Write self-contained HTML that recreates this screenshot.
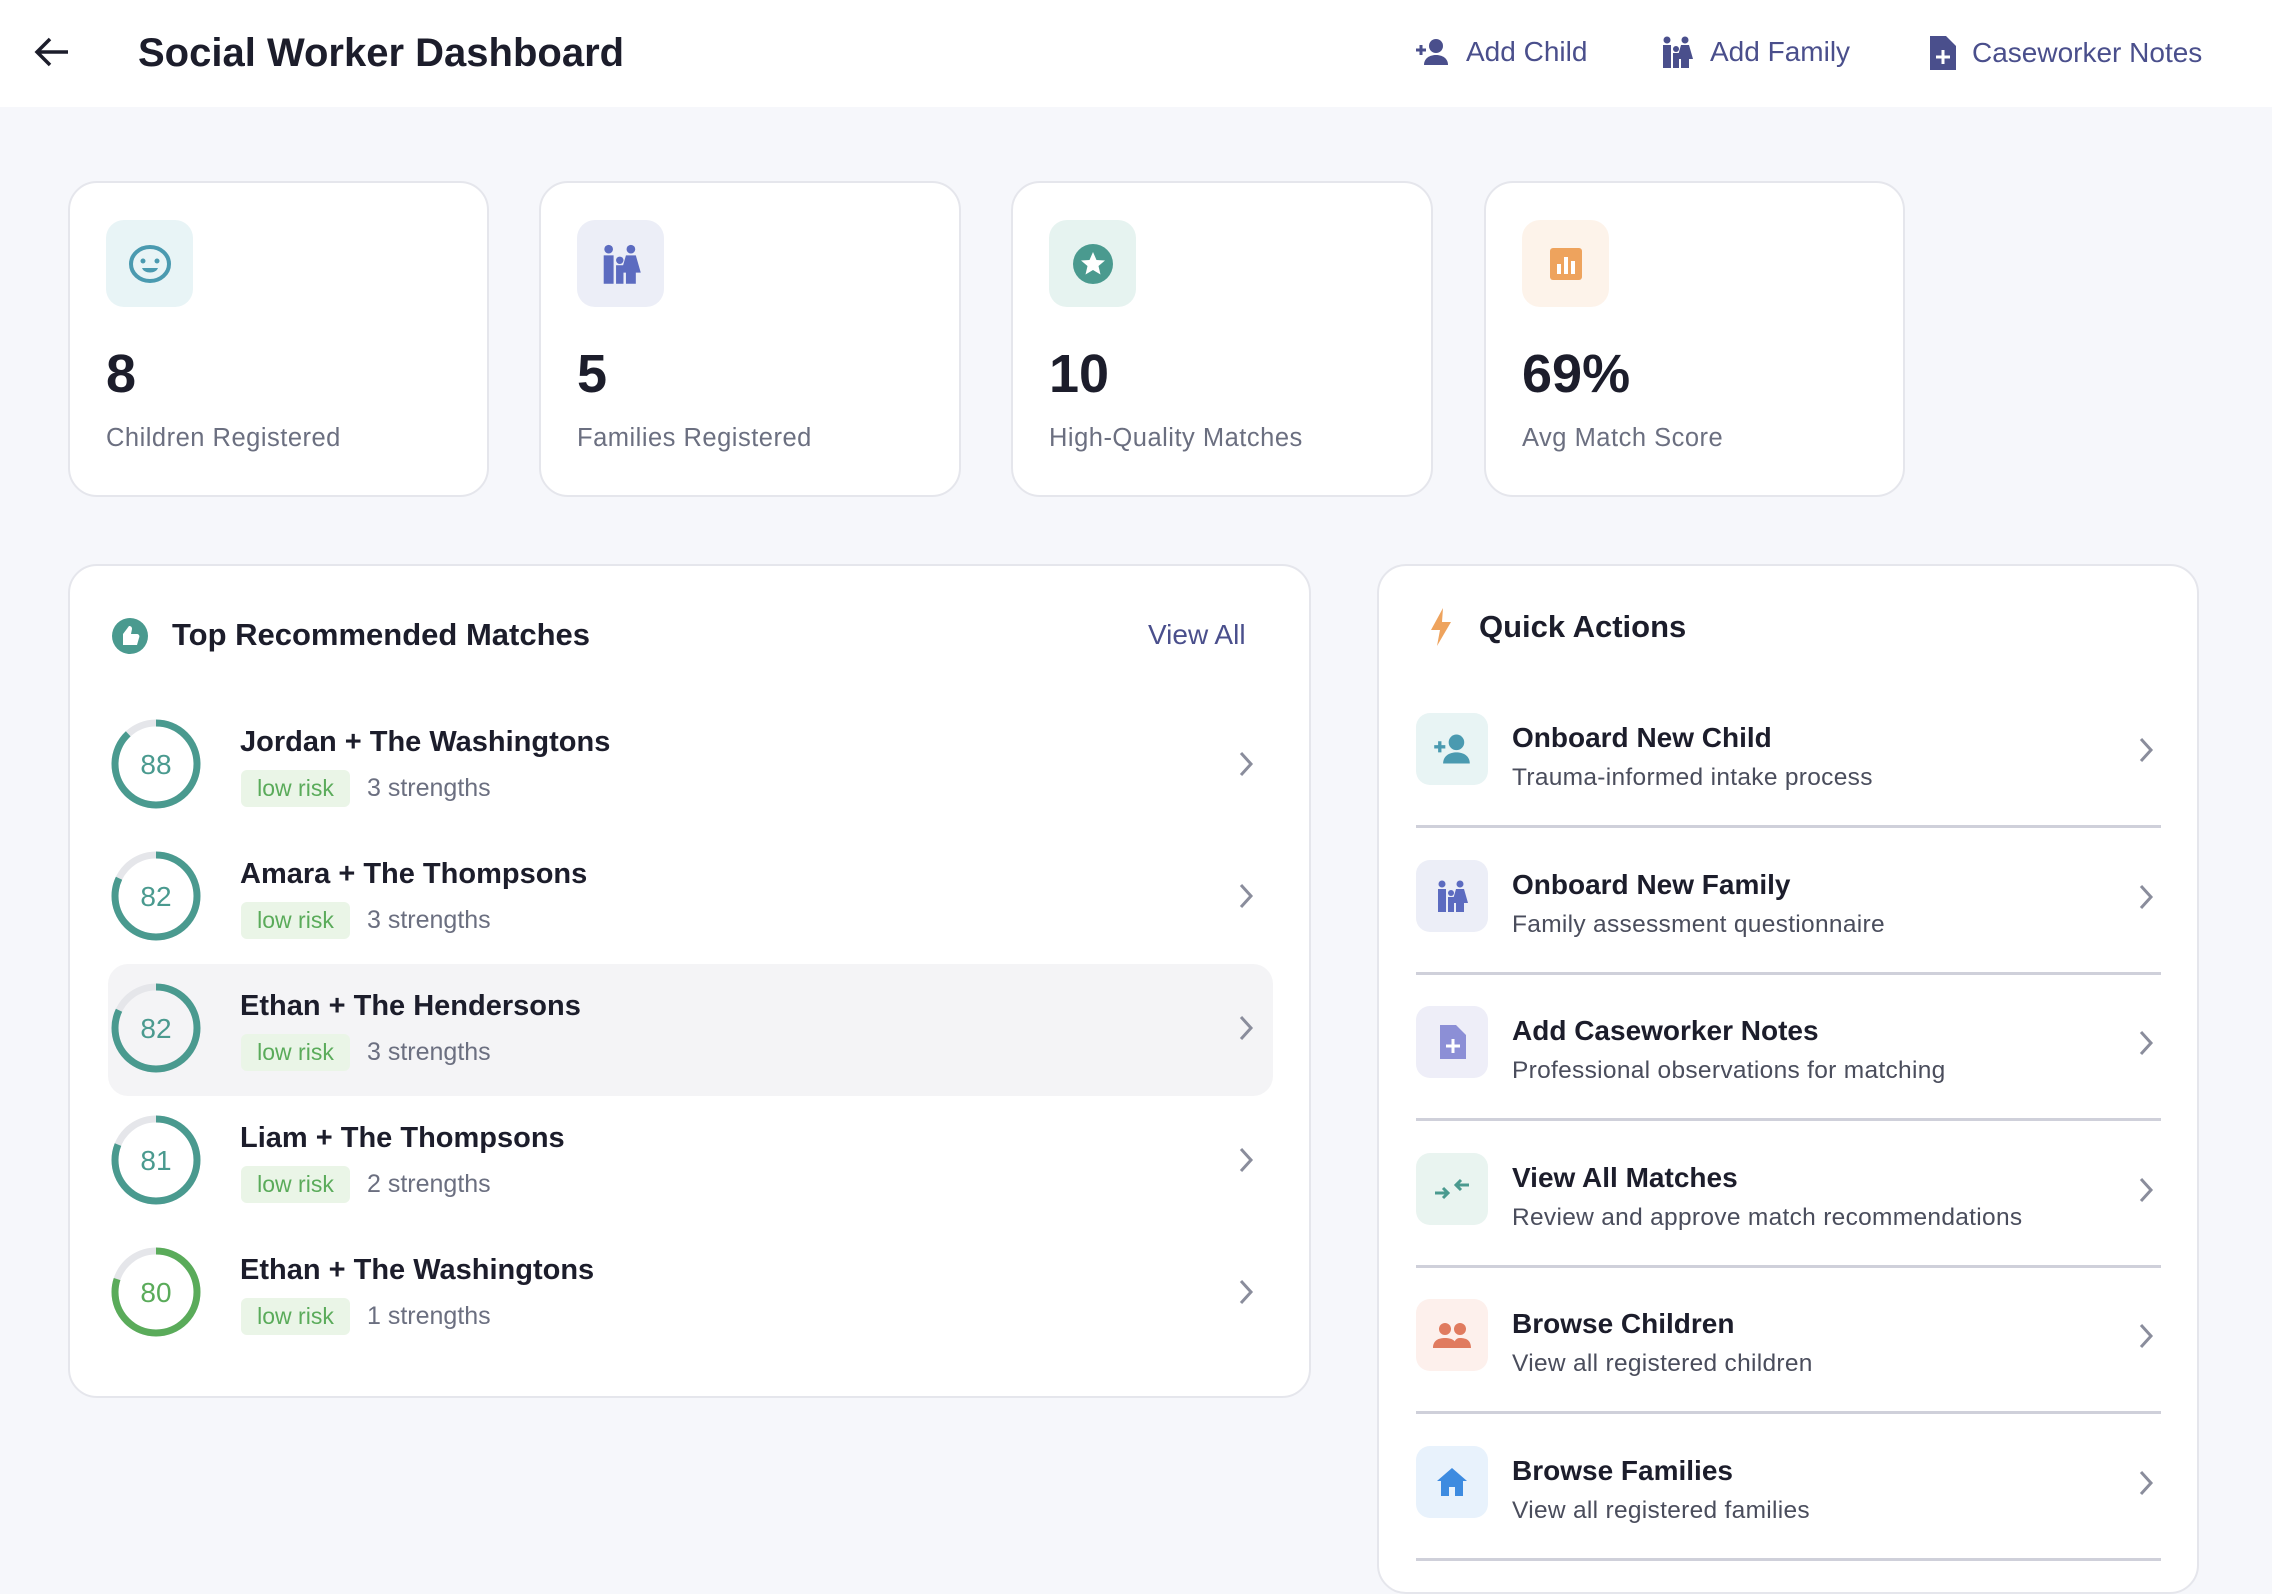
<!DOCTYPE html>
<html><head><meta charset="utf-8"><style>
*{box-sizing:border-box;margin:0;padding:0}
body{width:2272px;height:1560px;overflow:hidden;background:#f6f7fb;font-family:"Liberation Sans",sans-serif;color:#1c1d2b;position:relative}
.abs{position:absolute}
#hdr{left:0;top:0;width:2272px;height:107px;background:#fff}
.hact{position:absolute;top:36px;font-size:28px;color:#4a4f8c;display:flex;align-items:center;gap:16px;white-space:nowrap}
.card{position:absolute;background:#fff;border:2px solid #e5e6ec;border-radius:29px}
.ibox{position:absolute;left:36px;top:37px;width:87px;height:87px;border-radius:18px;display:flex;align-items:center;justify-content:center}
.num{position:absolute;left:36px;top:160px;font-size:54px;font-weight:700}
.lbl{position:absolute;left:36px;top:241px;font-size:25.5px;color:#6b6f80;letter-spacing:.5px}
.row{position:absolute;left:38px;width:1165px;height:132px;border-radius:20px}
.nm{position:absolute;left:132px;top:26px;font-size:29px;font-weight:700}
.badge{position:absolute;left:133px;top:70px;width:109px;height:37px;border-radius:6px;background:#eaf5e7;color:#5aab5a;font-size:23px;text-align:center;line-height:37px}
.str{position:absolute;left:259px;top:74px;font-size:25px;color:#6b6f80}
.chev{position:absolute;right:18px;top:50px}
.qa{position:absolute;left:37px;width:745px;height:146px;border-bottom:3px solid #cfd0da}
.qib{position:absolute;left:0;top:31px;width:72px;height:72px;border-radius:14px;display:flex;align-items:center;justify-content:center}
.qt{position:absolute;left:96px;top:40px;font-size:28px;font-weight:700}
.qs{position:absolute;left:96px;top:82px;font-size:24.5px;color:#4a4d5c;letter-spacing:.3px}
</style></head><body>
<div id="hdr" class="abs">
 <svg class="abs" style="left:34px;top:36px" width="36" height="32" viewBox="0 0 36 32"><path d="M34 16H4M16 3L3 16l13 13" fill="none" stroke="#1c1d2b" stroke-width="3.5"/></svg>
 <div class="abs" style="left:138px;top:31px;font-size:40px;font-weight:700">Social Worker Dashboard</div>
 <div class="hact" style="left:1414px"><svg width="36" height="28" viewBox="0 0 36 28"><circle cx="22" cy="8" r="7" fill="#4a4f8c"/><path d="M10 27c0-7 6-10 12-10s12 3 12 10z" fill="#4a4f8c"/><path d="M2 12h10M7 7v10" stroke="#4a4f8c" stroke-width="3"/></svg><span>Add Child</span></div>
 <div class="hact" style="left:1660px"><svg width="34" height="32" viewBox="0 0 34 32"><circle cx="7" cy="4" r="3.5" fill="#4a4f8c"/><circle cx="25" cy="4" r="3.5" fill="#4a4f8c"/><circle cx="16" cy="13" r="3" fill="#4a4f8c"/><rect x="3" y="9" width="8" height="23" fill="#4a4f8c"/><path d="M21 9h8l4 14h-4v9h-8v-9h-4z" fill="#4a4f8c"/><rect x="13" y="17" width="6" height="15" fill="#4a4f8c"/></svg><span>Add Family</span></div>
 <div class="hact" style="left:1928px"><svg width="28" height="34" viewBox="0 0 28 34"><path d="M2 0h16l10 10v24H2z" fill="#4a4f8c"/><path d="M15 14v14M8 21h14" stroke="#fff" stroke-width="3"/></svg><span>Caseworker Notes</span></div>
</div>

<div class="card" style="left:68px;top:181px;width:421px;height:316px">
 <div class="ibox" style="background:#e8f4f6"><svg width="48" height="40" viewBox="0 0 48 40"><ellipse cx="24" cy="20" rx="19" ry="17" fill="none" stroke="#4a9ab0" stroke-width="4"/><circle cx="17" cy="17" r="2.5" fill="#4a9ab0"/><circle cx="31" cy="17" r="2.5" fill="#4a9ab0"/><path d="M16 24h16c-2 6-14 6-16 0z" fill="#4a9ab0"/></svg></div>
 <div class="num">8</div><div class="lbl">Children Registered</div></div>
<div class="card" style="left:539px;top:181px;width:422px;height:316px">
 <div class="ibox" style="background:#eceef7"><svg width="42" height="44" viewBox="0 0 34 32"><circle cx="7" cy="4" r="3.5" fill="#5c6bc0"/><circle cx="25" cy="4" r="3.5" fill="#5c6bc0"/><circle cx="16" cy="13" r="3" fill="#5c6bc0"/><rect x="3" y="9" width="8" height="23" fill="#5c6bc0"/><path d="M21 9h8l4 14h-4v9h-8v-9h-4z" fill="#5c6bc0"/><rect x="13" y="17" width="6" height="15" fill="#5c6bc0"/></svg></div>
 <div class="num">5</div><div class="lbl">Families Registered</div></div>
<div class="card" style="left:1011px;top:181px;width:422px;height:316px">
 <div class="ibox" style="background:#e6f3f0"><svg width="44" height="44" viewBox="0 0 44 44"><circle cx="22" cy="22" r="20" fill="#4a9a8f"/><path d="M22 10l3.5 8 8.5.5-6.5 5.5 2 8.5L22 28l-7.5 4.5 2-8.5-6.5-5.5 8.5-.5z" fill="#fff"/></svg></div>
 <div class="num">10</div><div class="lbl">High-Quality Matches</div></div>
<div class="card" style="left:1484px;top:181px;width:421px;height:316px">
 <div class="ibox" style="background:#fdf3ea"><svg width="36" height="36" viewBox="0 0 36 36"><rect x="2" y="2" width="32" height="32" rx="3" fill="#eea35d"/><rect x="9" y="18" width="4" height="10" fill="#fff"/><rect x="16" y="11" width="4" height="17" fill="#fff"/><rect x="23" y="15" width="4" height="13" fill="#fff"/></svg></div>
 <div class="num">69%</div><div class="lbl">Avg Match Score</div></div>

<div class="card" style="left:68px;top:564px;width:1243px;height:834px">
 <svg class="abs" style="left:40px;top:50px" width="40" height="40" viewBox="0 0 40 40"><circle cx="20" cy="20" r="18" fill="#4a9a8f"/><path d="M13 29V18l6-8c2 0 3 1 3 3l-1 5h6c2 0 3 2 2 4l-2 7H13z" fill="#fff"/></svg>
 <div class="abs" style="left:102px;top:51px;font-size:31px;font-weight:700">Top Recommended Matches</div>
 <div class="abs" style="left:1078px;top:53px;font-size:28px;color:#4a4f8c">View All</div>
 <div id="rows"></div>
</div>

<div class="card" style="left:1377px;top:564px;width:822px;height:1030px">
 <svg class="abs" style="left:50px;top:42px" width="24" height="38" viewBox="0 0 24 38"><path d="M14 0L2 22h9l-3 16 14-24h-9z" fill="#eea35d"/></svg>
 <div class="abs" style="left:100px;top:43px;font-size:31px;font-weight:700">Quick Actions</div>
 <div id="qas"></div>
</div>

<script>
const matchNames=["Jordan + The Washingtons","Amara + The Thompsons","Ethan + The Hendersons","Liam + The Thompsons","Ethan + The Washingtons"];
const matchScores=[88,82,82,81,80];
const matchRisks=["low risk","low risk","low risk","low risk","low risk"];
const matchStrengths=[3,3,3,2,1];
const chevSvg='<svg width="18" height="28" viewBox="0 0 18 28"><path d="M4 3l10 11L4 25" fill="none" stroke="#8a8d9c" stroke-width="3"/></svg>';
const rowsEl=document.getElementById('rows');
const R=41,C=2*Math.PI*R;
matchNames.forEach((n,i)=>{
 const row=document.createElement('div');
 row.className='row';
 row.style.top=(134+i*132)+'px';
 if(i===2)row.style.background='#f4f4f6';
 
 
 const s=matchScores[i];
 const col=s>=81?'#4a9a8f':'#5aab5a';
 const len=C*s/100;
 row.innerHTML=`<svg style="position:absolute;left:0;top:16px" width="96" height="96" viewBox="0 0 96 96"><circle cx="48" cy="48" r="${R}" fill="none" stroke="#e5e6ea" stroke-width="7"/><circle cx="48" cy="48" r="${R}" fill="none" stroke="${col}" stroke-width="7" stroke-dasharray="${len} ${C}" transform="rotate(-90 48 48)"/><text x="48" y="58" text-anchor="middle" font-family="Liberation Sans" font-size="28" fill="${col}">${s}</text></svg>`+
 `<div class="nm">${n}</div><div class="badge">${matchRisks[i]}</div><div class="str">${matchStrengths[i]} strengths</div><div class="chev">${chevSvg}</div>`;
 rowsEl.appendChild(row);
});
const qaTitles=["Onboard New Child","Onboard New Family","Add Caseworker Notes","View All Matches","Browse Children","Browse Families"];
const qaSubs=["Trauma-informed intake process","Family assessment questionnaire","Professional observations for matching","Review and approve match recommendations","View all registered children","View all registered families"];
const qaBg=["#e8f4f4","#eceef7","#eeeef8","#e9f4f0","#fdf0ec","#e8f2fc"];
const qaIcons=[
 '<svg width="40" height="32" viewBox="0 0 36 28"><circle cx="22" cy="8" r="7" fill="#4a9ab0"/><path d="M10 27c0-7 6-10 12-10s12 3 12 10z" fill="#4a9ab0"/><path d="M2 12h10M7 7v10" stroke="#4a9ab0" stroke-width="3"/></svg>',
 '<svg width="34" height="34" viewBox="0 0 34 32"><circle cx="7" cy="4" r="3.5" fill="#5c6bc0"/><circle cx="25" cy="4" r="3.5" fill="#5c6bc0"/><circle cx="16" cy="13" r="3" fill="#5c6bc0"/><rect x="3" y="9" width="8" height="23" fill="#5c6bc0"/><path d="M21 9h8l4 14h-4v9h-8v-9h-4z" fill="#5c6bc0"/><rect x="13" y="17" width="6" height="15" fill="#5c6bc0"/></svg>',
 '<svg width="28" height="34" viewBox="0 0 28 34"><path d="M2 0h16l10 10v24H2z" fill="#8c8fd6"/><path d="M15 14v14M8 21h14" stroke="#fff" stroke-width="3"/></svg>',
 '<svg width="38" height="24" viewBox="0 0 38 24"><path d="M2 16h12M10 11l5 5-5 5M36 8H24M28 3l-5 5 5 5" fill="none" stroke="#4a9a8f" stroke-width="3"/></svg>',
 '<svg width="38" height="26" viewBox="0 0 38 26"><circle cx="12" cy="7" r="6" fill="#e07b5f"/><circle cx="27" cy="7" r="6" fill="#e07b5f"/><path d="M0 26c0-8 6-10 12-10s12 2 12 10zM20 26c1-6 2-10 7-10 6 0 11 2 11 10z" fill="#e07b5f"/></svg>',
 '<svg width="34" height="32" viewBox="0 0 34 32"><path d="M17 2L2 15h4v15h8v-9h6v9h8V15h4z" fill="#3d8be0"/></svg>'
];
const qasEl=document.getElementById('qas');
qaTitles.forEach((t,i)=>{
 const it=document.createElement('div');
 it.className='qa';
 it.style.top=(116+i*146.5)+'px';
 
 
 it.innerHTML=`<div class="qib" style="background:${qaBg[i]}">${qaIcons[i]}</div><div class="qt">${t}</div><div class="qs">${qaSubs[i]}</div><div style="position:absolute;right:6px;top:54px">${chevSvg}</div>`;
 qasEl.appendChild(it);
});
</script>
</body></html>
